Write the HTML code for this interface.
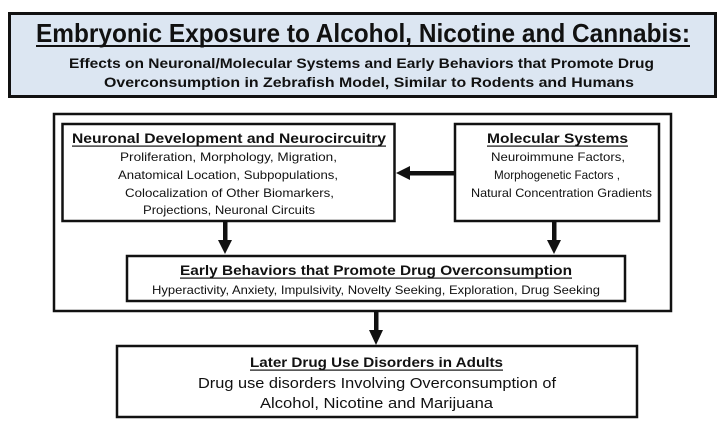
<!DOCTYPE html>
<html><head><meta charset="utf-8"><style>
html,body{margin:0;padding:0;background:#fff;}
svg{display:block;}
text{font-family:"Liberation Sans",sans-serif;fill:#111;text-anchor:start;}
.b{font-weight:bold;}
</style></head><body>
<svg width="725" height="426" viewBox="0 0 725 426" xmlns="http://www.w3.org/2000/svg">
<!-- title box -->
<rect x="9.5" y="13.5" width="706" height="83" fill="#dce6f2" stroke="#111" stroke-width="3"/>
<text class="b" x="36" y="42" font-size="26" textLength="654" lengthAdjust="spacingAndGlyphs">Embryonic Exposure to Alcohol, Nicotine and Cannabis:</text>
<rect x="36" y="45" width="654" height="2" fill="#111"/>
<text class="b" x="69" y="68" font-size="14" textLength="585" lengthAdjust="spacingAndGlyphs">Effects on Neuronal/Molecular Systems and Early Behaviors that Promote Drug</text>
<text class="b" x="104" y="87" font-size="14" textLength="530" lengthAdjust="spacingAndGlyphs">Overconsumption in Zebrafish Model, Similar to Rodents and Humans</text>

<!-- outer box -->
<rect x="54" y="114" width="617" height="197" fill="none" stroke="#111" stroke-width="2.5"/>

<!-- left box -->
<rect x="62.5" y="124" width="332" height="97" fill="#fff" stroke="#111" stroke-width="2.5"/>
<text class="b" x="72" y="143" font-size="14" textLength="314" lengthAdjust="spacingAndGlyphs">Neuronal Development and Neurocircuitry</text>
<rect x="72" y="145.5" width="314" height="1.2" fill="#111"/>
<text x="120" y="161" font-size="12" textLength="217" lengthAdjust="spacingAndGlyphs">Proliferation, Morphology, Migration,</text>
<text x="118" y="179" font-size="12" textLength="220" lengthAdjust="spacingAndGlyphs">Anatomical Location, Subpopulations,</text>
<text x="125" y="197" font-size="12" textLength="209" lengthAdjust="spacingAndGlyphs">Colocalization of Other Biomarkers,</text>
<text x="143" y="214" font-size="12" textLength="172" lengthAdjust="spacingAndGlyphs">Projections, Neuronal Circuits</text>

<!-- right box -->
<rect x="455" y="124" width="204" height="97" fill="#fff" stroke="#111" stroke-width="2.5"/>
<text class="b" x="487" y="143" font-size="14" textLength="141" lengthAdjust="spacingAndGlyphs">Molecular Systems</text>
<rect x="487" y="145.5" width="141" height="1.2" fill="#111"/>
<text x="491" y="161" font-size="12" textLength="134" lengthAdjust="spacingAndGlyphs">Neuroimmune Factors,</text>
<text x="494" y="179" font-size="12" textLength="126" lengthAdjust="spacingAndGlyphs">Morphogenetic Factors ,</text>
<text x="471" y="197" font-size="12" textLength="181" lengthAdjust="spacingAndGlyphs">Natural Concentration Gradients</text>

<!-- horizontal arrow -->
<rect x="408" y="171" width="46" height="4.5" fill="#111"/>
<polygon points="396,173 410,166 410,180" fill="#111"/>

<!-- down arrows -->
<rect x="223" y="222" width="4.5" height="20" fill="#111"/>
<polygon points="218,240 232,240 225,254" fill="#111"/>
<rect x="552" y="222" width="4.5" height="20" fill="#111"/>
<polygon points="547,240 561,240 554,254" fill="#111"/>

<!-- behaviors box -->
<rect x="127" y="256" width="498" height="45" fill="#fff" stroke="#111" stroke-width="2.5"/>
<text class="b" x="180" y="275" font-size="14" textLength="392" lengthAdjust="spacingAndGlyphs">Early Behaviors that Promote Drug Overconsumption</text>
<rect x="180" y="277.5" width="392" height="1.2" fill="#111"/>
<text x="152" y="294" font-size="12" textLength="448" lengthAdjust="spacingAndGlyphs">Hyperactivity, Anxiety, Impulsivity, Novelty Seeking, Exploration, Drug Seeking</text>

<!-- down arrow to bottom -->
<rect x="374" y="312" width="4.5" height="20" fill="#111"/>
<polygon points="369,330 383,330 376,345" fill="#111"/>

<!-- bottom box -->
<rect x="117" y="346" width="520" height="71" fill="#fff" stroke="#111" stroke-width="2.5"/>
<text class="b" x="250" y="367" font-size="14" textLength="253" lengthAdjust="spacingAndGlyphs">Later Drug Use Disorders in Adults</text>
<rect x="250" y="369.5" width="253" height="1.2" fill="#111"/>
<text x="198" y="388" font-size="15" textLength="358" lengthAdjust="spacingAndGlyphs">Drug use disorders Involving Overconsumption of</text>
<text x="260" y="408" font-size="15" textLength="233" lengthAdjust="spacingAndGlyphs">Alcohol, Nicotine and Marijuana</text>
</svg>
</body></html>
